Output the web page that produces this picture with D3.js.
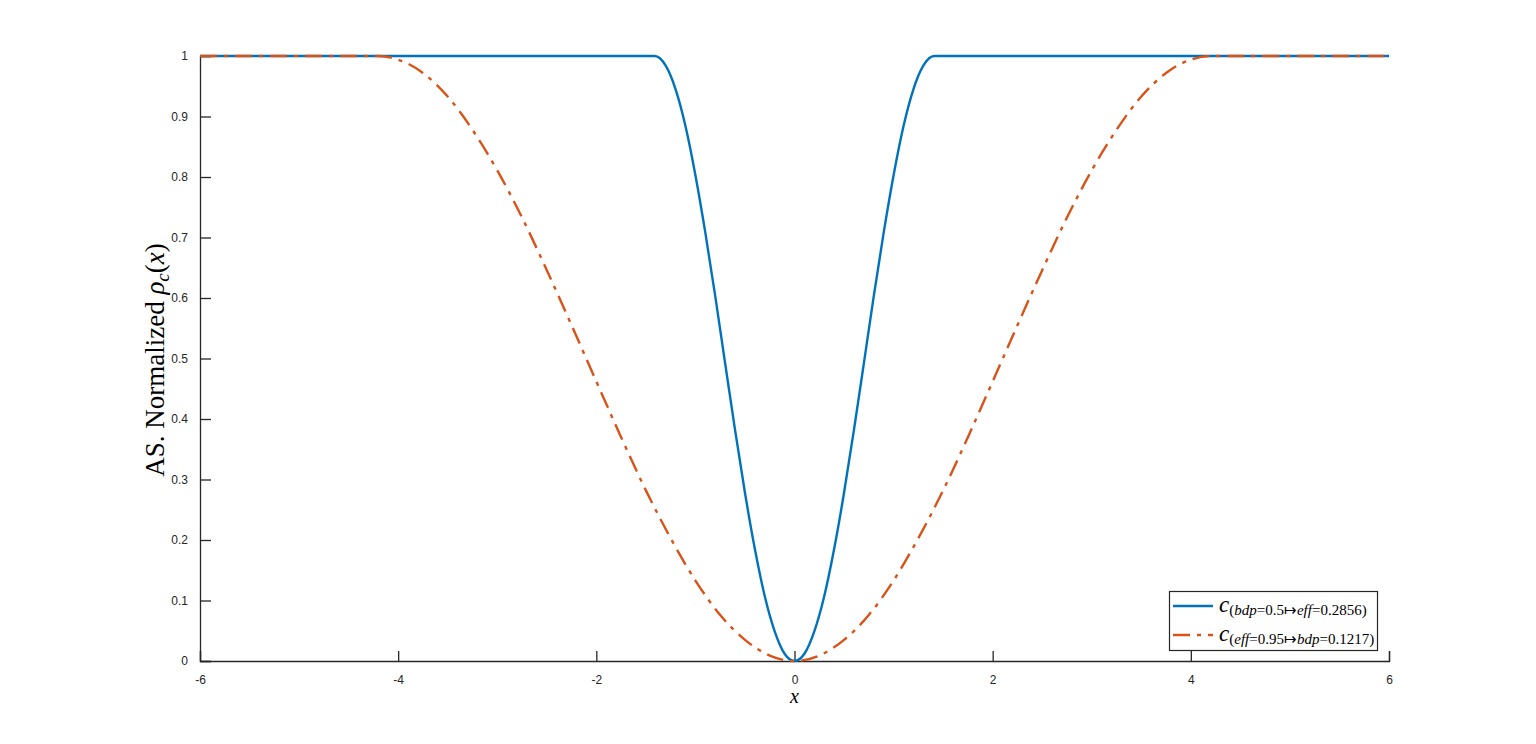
<!DOCTYPE html>
<html lang="en">

<head>
    <meta charset="UTF-8">
    <title>AS normalized rho</title>
    <style>
        body { margin: 0; background: #fff; }
    </style>
</head>

<body>
    <script type="text/javascript" src="https://cdn.jsdelivr.net/npm/d3@7"></script>
    <script type="text/javascript">
    // values
    var xTicks = [-6, -4, -2, 0, 2, 4, 6],
        yTicks = [0, 0.1, 0.2, 0.3, 0.4, 0.5, 0.6, 0.7, 0.8, 0.9, 1];

    var blueX = [-6, -1.41, -1.3, -1.2, -1.1, -1.0, -0.9, -0.8, -0.7, -0.6, -0.5, -0.4, -0.3, -0.2, -0.1, 0,
                 0.1, 0.2, 0.3, 0.4, 0.5, 0.6, 0.7, 0.8, 0.9, 1.0, 1.1, 1.2, 1.3, 1.41, 6];
    var blueY = [1, 1, 0.984, 0.945, 0.884, 0.803, 0.708, 0.603, 0.492, 0.382, 0.278, 0.185, 0.107, 0.049, 0.012, 0,
                 0.012, 0.049, 0.107, 0.185, 0.278, 0.382, 0.492, 0.603, 0.708, 0.803, 0.884, 0.945, 0.984, 1, 1];

    var orangeX = [-6, -4.2, -4.0, -3.75, -3.5, -3.25, -3.0, -2.75, -2.5, -2.25, -2.0, -1.75, -1.5, -1.25, -1.0, -0.75, -0.5, -0.25, 0,
                   0.25, 0.5, 0.75, 1.0, 1.25, 1.5, 1.75, 2.0, 2.25, 2.5, 2.75, 3.0, 3.25, 3.5, 3.75, 4.0, 4.2, 6];
    var orangeY = [1, 1, 0.994, 0.972, 0.933, 0.878, 0.811, 0.733, 0.646, 0.555, 0.462, 0.370, 0.282, 0.203, 0.133, 0.076, 0.035, 0.009, 0,
                   0.009, 0.035, 0.076, 0.133, 0.203, 0.282, 0.370, 0.462, 0.555, 0.646, 0.733, 0.811, 0.878, 0.933, 0.972, 0.994, 1, 1];

    var w = 1536,
        h = 744,
        plotLeft = 200,
        plotRight = 1389,
        plotTop = 56,
        plotBottom = 661,
        axisColor = "#262626",
        dashDot = "17,7,4,7",
        tickFont = "'Liberation Sans', Arial, sans-serif",
        mathFont = "'Liberation Serif', 'Times New Roman', serif";

    var svg = d3.select("body")
        .append("svg")
        .attr("width", w)
        .attr("height", h);

    var x = d3.scaleLinear().domain([-6, 6]).range([plotLeft, plotRight]);
    var y = d3.scaleLinear().domain([0, 1]).range([plotBottom, plotTop]);

    // axes, ticks pointing inward like matlab
    var xAxis = svg.append("g")
        .attr("transform", "translate(0," + plotBottom + ")")
        .call(d3.axisBottom(x).tickValues(xTicks).tickSize(-10).tickPadding(14)
            .tickFormat(function(d) { return d; }));
    var yAxis = svg.append("g")
        .attr("transform", "translate(" + plotLeft + ",0)")
        .call(d3.axisLeft(y).tickValues(yTicks).tickSize(-11).tickPadding(20)
            .tickFormat(function(d) { return d; }));

    [xAxis, yAxis].forEach(function(g) {
        g.select(".domain").attr("stroke", axisColor).attr("stroke-width", 1.3);
        g.selectAll(".tick line").attr("stroke", axisColor).attr("stroke-width", 1.3);
        g.selectAll(".tick text")
            .attr("fill", axisColor)
            .attr("font-family", tickFont)
            .attr("font-size", "12px");
    });
    yAxis.selectAll(".tick text").attr("dx", "8");

    var line = d3.line()
        .x(function(d) { return x(d[0]); })
        .y(function(d) { return y(d[1]); })
        .curve(d3.curveMonotoneX);

    var blueData = d3.zip(blueX, blueY),
        orangeData = d3.zip(orangeX, orangeY);

    svg.append("path")
        .datum(blueData)
        .attr("d", line)
        .attr("fill", "none")
        .attr("stroke", "#0072BD")
        .attr("stroke-width", 2.4);

    svg.append("path")
        .datum(orangeData)
        .attr("d", line)
        .attr("fill", "none")
        .attr("stroke", "#D95319")
        .attr("stroke-width", 2.4)
        .attr("stroke-dasharray", dashDot);

    // y label
    var yl = svg.append("text")
        .attr("transform", "translate(164,360) rotate(-90)")
        .attr("text-anchor", "middle")
        .attr("font-family", mathFont)
        .attr("font-size", "27px")
        .attr("fill", "#000");
    yl.append("tspan").text("AS. Normalized ");
    yl.append("tspan").attr("font-style", "italic").text("ρ");
    yl.append("tspan").attr("font-style", "italic").attr("font-size", "19px").attr("dy", "5").text("c");
    yl.append("tspan").attr("dy", "-5").text("(");
    yl.append("tspan").attr("font-style", "italic").text("x");
    yl.append("tspan").text(")");

    // x label
    svg.append("text")
        .attr("x", x(0))
        .attr("y", 703)
        .attr("text-anchor", "middle")
        .attr("font-family", mathFont)
        .attr("font-style", "italic")
        .attr("font-size", "20px")
        .text("x");

    // legend
    var lg = svg.append("g");
    lg.append("rect")
        .attr("x", 1169.5)
        .attr("y", 591.5)
        .attr("width", 208)
        .attr("height", 59)
        .attr("fill", "#fff")
        .attr("stroke", axisColor)
        .attr("stroke-width", 1.2);

    var legendItems = [
        { color: "#0072BD", dash: null, y: 606, a: "bdp", av: "=0.5", b: "eff", bv: "=0.2856)" },
        { color: "#D95319", dash: dashDot, y: 635, a: "eff", av: "=0.95", b: "bdp", bv: "=0.1217)" }
    ];

    legendItems.forEach(function(it) {
        lg.append("line")
            .attr("x1", 1173).attr("x2", 1213)
            .attr("y1", it.y).attr("y2", it.y)
            .attr("stroke", it.color)
            .attr("stroke-width", 2.4)
            .attr("stroke-dasharray", it.dash);
        var t = lg.append("text")
            .attr("x", 1219)
            .attr("y", it.y + 6)
            .attr("font-family", mathFont)
            .attr("fill", "#000");
        t.append("tspan").attr("font-style", "italic").attr("font-size", "23px").text("c");
        var s = t.append("tspan").attr("font-size", "15px").attr("dy", "3");
        s.append("tspan").text("(");
        s.append("tspan").attr("font-style", "italic").text(it.a);
        s.append("tspan").text(it.av + "↦");
        s.append("tspan").attr("font-style", "italic").text(it.b);
        s.append("tspan").text(it.bv);
    });
    </script>
</body>

</html>
